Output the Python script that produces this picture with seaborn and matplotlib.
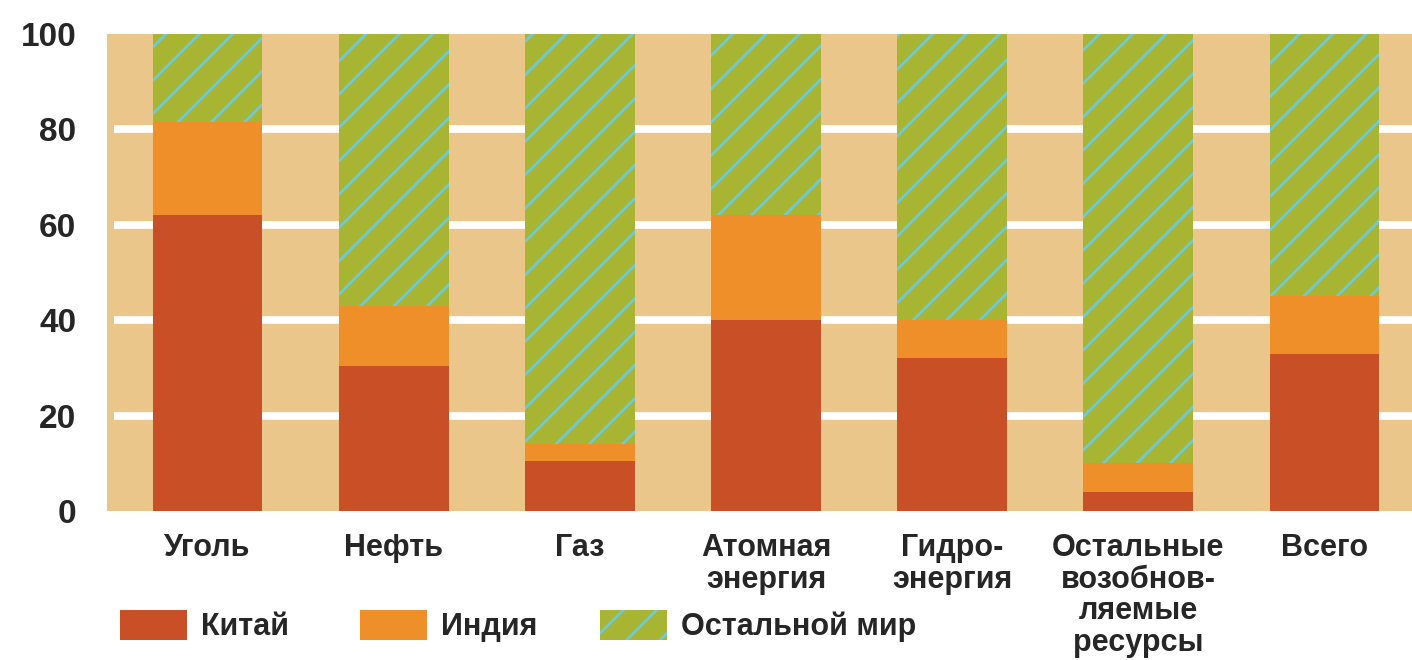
import matplotlib
matplotlib.use("Agg")
import matplotlib.pyplot as plt
import matplotlib.patches as mpatches
import numpy as np
import seaborn as sns

# ── Data ───────────────────────────────────────────────────────────────────────
categories = ["Уголь", "Нефть", "Газ", "Атомная\nэнергия", "Гидро-\nэнергия",
              "Остальные\nвозобнов-\nляемые\nресурсы", "Всего"]
china = np.array([62.0, 30.5, 10.5, 40.0, 32.0, 4.0, 33.0])
india = np.array([19.5, 12.5, 3.5, 22.0, 8.0, 6.0, 12.0])
rest = 100 - china - india
series_names = ["Китай", "Индия", "Остальной мир"]
y_ticks = [0, 20, 40, 60, 80, 100]

# ── Style ──────────────────────────────────────────────────────────────────────
BG     = "#ebc68a"
RED    = "#c94f26"
ORANGE = "#ef8f2a"
GREEN  = "#a7b532"
CYAN   = "#6ecad6"

sns.set_style("white")
plt.rcParams["font.family"] = ["Liberation Sans", "DejaVu Sans"]
plt.rcParams["hatch.linewidth"] = 2.0

fig = plt.figure(figsize=(14.12, 6.6), dpi=100)
ax = fig.add_axes([107 / 1412, 149 / 660, 1 - 107 / 1412, 477 / 660])
ax.set_facecolor(BG)

# stacked bars: draw the tallest stack first
bw = 0.59
sns.barplot(x=categories, y=china + india + rest, color=GREEN, saturation=1,
            width=bw, hatch="/", edgecolor=CYAN, linewidth=0, errorbar=None,
            ax=ax, zorder=3)
sns.barplot(x=categories, y=china + india, color=ORANGE, saturation=1,
            width=bw, linewidth=0, errorbar=None, ax=ax, zorder=3)
sns.barplot(x=categories, y=china, color=RED, saturation=1,
            width=bw, linewidth=0, errorbar=None, ax=ax, zorder=3)

ax.set_xlim(-0.54, 6.47)
ax.set_ylim(0, 100)

# white gridlines behind bars
ax.hlines(y_ticks[1:-1], -0.5, 6.47, color="white", linewidth=5.5, zorder=1)

for s in ax.spines.values():
    s.set_visible(False)

ax.set_yticks(y_ticks)
ax.set_yticklabels([str(v) for v in y_ticks], fontsize=24, fontweight="bold")
ax.tick_params(axis="y", length=0, pad=22)

ax.set_xticks(range(len(categories)))
ax.set_xticklabels(categories, fontsize=22, fontweight="bold", linespacing=1.07)
ax.tick_params(axis="x", which="major", length=0, pad=16)
ax.set_xticks(np.arange(-0.5, len(categories) - 1, 1.0), minor=True)
ax.tick_params(axis="x", which="minor", direction="in", length=10,
               width=1.8, color="black")
ax.set_xlabel("")
ax.set_ylabel("")

# legend: three entries at fixed spots along the bottom
handles = [
    mpatches.Patch(facecolor=RED, linewidth=0),
    mpatches.Patch(facecolor=ORANGE, linewidth=0),
    mpatches.Patch(facecolor=GREEN, edgecolor=CYAN, hatch="/", linewidth=0),
]
for i, (h, name) in enumerate(zip(handles, series_names)):
    fig.legend([h], [name], loc="center left",
               bbox_to_anchor=((120 + 240 * i) / 1412, 34 / 660),
               frameon=False, handlelength=2.2, handleheight=1.15,
               handletextpad=0.45, borderpad=0, borderaxespad=0,
               prop={"size": 22, "weight": "bold"})

fig.savefig("out.png", dpi=100)
